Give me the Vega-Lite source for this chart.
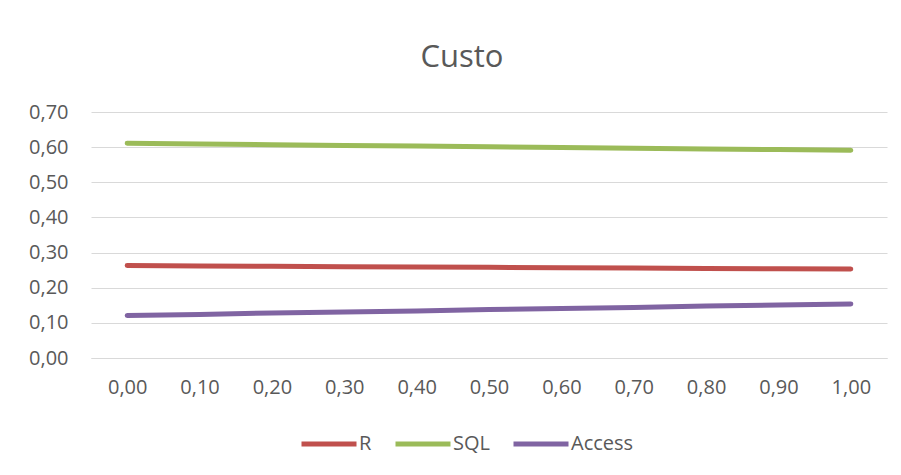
{
  "$schema": "https://vega.github.io/schema/vega-lite/v6.json",
  "width": 796,
  "height": 246,
  "autosize": {"type": "none"},
  "padding": {"left": 91, "top": 112, "right": 14, "bottom": 117},
  "background": "white",
  "title": {
    "text": "Custo",
    "anchor": "middle",
    "dx": -27,
    "offset": 4,
    "baseline": "alphabetic",
    "font": "Open Sans",
    "fontSize": 31,
    "fontWeight": "normal",
    "color": "#595959"
  },
  "data": {
    "values": [
      {"x": "0,00", "serie": "R", "custo": 0.263},
      {"x": "0,10", "serie": "R", "custo": 0.262},
      {"x": "0,20", "serie": "R", "custo": 0.261},
      {"x": "0,30", "serie": "R", "custo": 0.260},
      {"x": "0,40", "serie": "R", "custo": 0.259},
      {"x": "0,50", "serie": "R", "custo": 0.258},
      {"x": "0,60", "serie": "R", "custo": 0.257},
      {"x": "0,70", "serie": "R", "custo": 0.256},
      {"x": "0,80", "serie": "R", "custo": 0.255},
      {"x": "0,90", "serie": "R", "custo": 0.254},
      {"x": "1,00", "serie": "R", "custo": 0.253},
      {"x": "0,00", "serie": "SQL", "custo": 0.611},
      {"x": "0,10", "serie": "SQL", "custo": 0.609},
      {"x": "0,20", "serie": "SQL", "custo": 0.607},
      {"x": "0,30", "serie": "SQL", "custo": 0.605},
      {"x": "0,40", "serie": "SQL", "custo": 0.603},
      {"x": "0,50", "serie": "SQL", "custo": 0.601},
      {"x": "0,60", "serie": "SQL", "custo": 0.599},
      {"x": "0,70", "serie": "SQL", "custo": 0.597},
      {"x": "0,80", "serie": "SQL", "custo": 0.595},
      {"x": "0,90", "serie": "SQL", "custo": 0.593},
      {"x": "1,00", "serie": "SQL", "custo": 0.591},
      {"x": "0,00", "serie": "Access", "custo": 0.121},
      {"x": "0,10", "serie": "Access", "custo": 0.124},
      {"x": "0,20", "serie": "Access", "custo": 0.128},
      {"x": "0,30", "serie": "Access", "custo": 0.131},
      {"x": "0,40", "serie": "Access", "custo": 0.134},
      {"x": "0,50", "serie": "Access", "custo": 0.138},
      {"x": "0,60", "serie": "Access", "custo": 0.141},
      {"x": "0,70", "serie": "Access", "custo": 0.144},
      {"x": "0,80", "serie": "Access", "custo": 0.148},
      {"x": "0,90", "serie": "Access", "custo": 0.151},
      {"x": "1,00", "serie": "Access", "custo": 0.154}
    ]
  },
  "mark": {"type": "line", "strokeWidth": 5, "strokeCap": "round", "strokeJoin": "round"},
  "encoding": {
    "x": {
      "field": "x",
      "type": "ordinal",
      "sort": null,
      "scale": {"type": "point", "padding": 0.5},
      "axis": {
        "title": null,
        "labelAngle": 0,
        "ticks": false,
        "domain": true,
        "domainColor": "#D9D9D9",
        "domainWidth": 1,
        "grid": false,
        "labelPadding": 19,
        "labelFont": "Open Sans",
        "labelFontSize": 20,
        "labelColor": "#595959"
      }
    },
    "y": {
      "field": "custo",
      "type": "quantitative",
      "scale": {"domain": [0, 0.7], "nice": false},
      "axis": {
        "title": null,
        "values": [0, 0.1, 0.2, 0.3, 0.4, 0.5, 0.6, 0.7],
        "format": ".2f",
        "ticks": false,
        "domain": false,
        "grid": true,
        "gridColor": "#D9D9D9",
        "gridWidth": 1,
        "labelPadding": 23,
        "labelFont": "Open Sans",
        "labelFontSize": 20,
        "labelColor": "#595959"
      }
    },
    "color": {
      "field": "serie",
      "type": "nominal",
      "scale": {"domain": ["R", "SQL", "Access"], "range": ["#C0504D", "#9BBB59", "#8064A2"]},
      "legend": {
        "title": null,
        "orient": "none",
        "direction": "horizontal",
        "legendX": 208,
        "legendY": 302,
        "symbolType": "stroke",
        "symbolStrokeWidth": 5,
        "symbolSize": 3025,
        "labelOffset": 0,
        "columnPadding": 13,
        "labelFont": "Open Sans",
        "labelFontSize": 20,
        "labelColor": "#595959"
      }
    }
  },
  "config": {
    "view": {"stroke": null},
    "locale": {
      "number": {"decimal": ",", "thousands": ".", "grouping": [3], "currency": ["", ""]}
    }
  }
}
